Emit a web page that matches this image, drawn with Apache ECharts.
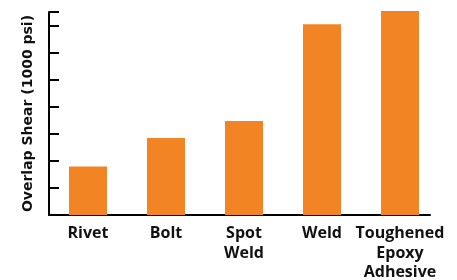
<!DOCTYPE html>
<html>
<head>
<meta charset="utf-8">
<script src="https://cdn.jsdelivr.net/npm/echarts@6/dist/echarts.min.js"></script>
<style>
  html, body { margin: 0; padding: 0; background: #fff; }
  #chart { width: 457px; height: 280px; }
</style>
</head>
<body>
<div id="chart"></div>
<script>
  const categories = ['Rivet', 'Bolt', 'Spot\nWeld', 'Weld', 'Toughened\nEpoxy\nAdhesive'];
  const shear = [1.8, 2.85, 3.48, 7.07, 7.56];

  const myChart = echarts.init(document.getElementById('chart'));

  const option = {
    animation: false,
    grid: [
      // bars + labels
      { left: 49, top: 12, bottom: 65, width: 390, outerBoundsMode: 'none' },
      // axis frame only
      { left: 49, top: 12, bottom: 65, width: 381, outerBoundsMode: 'none' }
    ],
    xAxis: [
      {
        type: 'category',
        gridIndex: 0,
        data: categories,
        axisLine: { show: false },
        axisTick: { show: false },
        axisLabel: {
          color: '#111',
          fontFamily: 'Open Sans',
          fontWeight: 'bold',
          fontSize: 16,
          lineHeight: 19.5,
          margin: 9,
          interval: 0
        }
      },
      {
        type: 'value',
        gridIndex: 1,
        min: 0,
        max: 1,
        axisLine: { show: true, lineStyle: { color: '#000', width: 2 } },
        axisTick: { show: false },
        axisLabel: { show: false },
        splitLine: { show: false }
      }
    ],
    yAxis: [
      {
        type: 'value',
        gridIndex: 0,
        min: 0,
        max: 7.52,
        interval: 1,
        name: 'Overlap Shear (1000 psi)',
        nameLocation: 'middle',
        nameGap: 14,
        nameTextStyle: {
          color: '#111',
          fontFamily: 'DejaVu Sans',
          fontWeight: 'bold',
          fontSize: 14
        },
        axisLine: { show: true, lineStyle: { color: '#000', width: 2 } },
        axisTick: { show: true, inside: true, length: 10, lineStyle: { color: '#000', width: 2 } },
        axisLabel: { show: false },
        splitLine: { show: false }
      },
      {
        type: 'value',
        gridIndex: 1,
        show: false
      }
    ],
    series: [
      {
        type: 'bar',
        xAxisIndex: 0,
        yAxisIndex: 0,
        data: shear,
        barWidth: 38,
        clip: false,
        itemStyle: { color: '#F38424' }
      }
    ]
  };

  myChart.setOption(option);
</script>
</body>
</html>
